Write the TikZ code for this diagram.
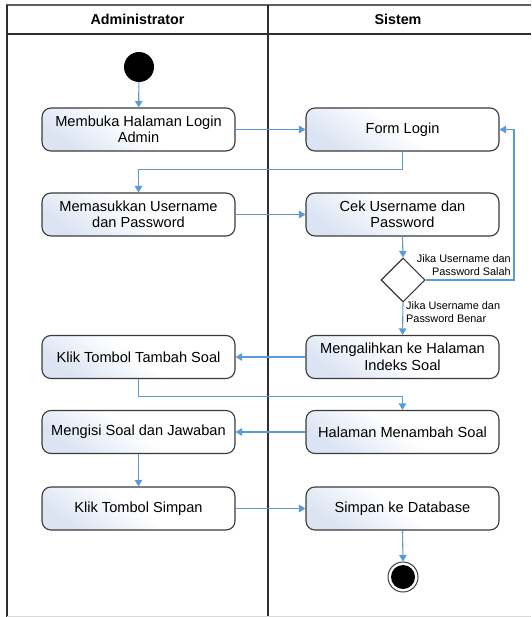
\documentclass[tikz,border=0pt]{standalone}
\usepackage{fontspec}
\setmainfont{Liberation Sans}
\usetikzlibrary{shapes.geometric,arrows.meta}

\definecolor{flow}{HTML}{5B9BD5}
\definecolor{edge}{HTML}{3A3A3A}
\definecolor{boxfill}{HTML}{DCE4F3}
\definecolor{lane}{HTML}{2E2E2E}

\tikzset{
  action/.style={draw=edge, line width=1.1pt, rounded corners=9pt,
    minimum width=193pt, minimum height=43pt, inner sep=2pt, align=center,
    top color=white, bottom color=boxfill, middle color=white, shading angle=-35,
    font=\fontsize{14.6}{16.5}\selectfont},
  flowline/.style={draw=flow, line width=1.1pt,
    -{Triangle[length=6.5pt,width=7.5pt]}},
  guard/.style={font=\fontsize{10.9}{13}\selectfont, inner sep=0pt},
  header/.style={font=\fontsize{14.3}{16}\selectfont\bfseries},
  lanerule/.style={draw=lane, line width=1.8pt},
}

\begin{document}
\begin{tikzpicture}[x=1pt,y=-1pt]
\useasboundingbox (0,0) rectangle (531,617);

% swimlane frame
\draw[draw=gray!75!black, line width=1.6pt] (6,5) -- (531,5);
\draw[lanerule] (6,34) -- (531,34);
\draw[lanerule] (7,5) -- (7,617);
\draw[lanerule] (268,5) -- (268,617);
\draw[draw=gray!30, line width=0.8pt] (7,616) -- (531,616);

\node[header] (hadmin) at (137.5,19.5) {Administrator};
\node[header] (hsys) at (398,19.5) {Sistem};

% initial and final states
\node[circle, fill=black, minimum size=30pt, inner sep=0pt] (start) at (139,67) {};
\node[circle, draw=gray!50!black, line width=1pt, fill=white, minimum size=30pt, inner sep=0pt] (stop) at (403,577) {};
\node[circle, fill=black, minimum size=24pt, inner sep=0pt] (stopdot) at (403,577) {};

% administrator lane
\node[action] (open)   at (138.5,129.5) {Membuka Halaman Login\\Admin};
\node[action] (enter)  at (138.5,214.5) {Memasukkan Username\\dan Password};
\node[action] (tambah) at (138.5,357)   {Klik Tombol Tambah Soal};
\node[action] (isi)    at (138.5,432)   {Mengisi Soal dan Jawaban};
\node[action] (simpan) at (138.5,508.5) {Klik Tombol Simpan};

% system lane
\node[action] (form)   at (402.5,129.5) {Form Login};
\node[action] (cek)    at (402.5,214.5) {Cek Username dan\\Password};
\node[diamond, draw=edge, line width=1.1pt, fill=white, minimum width=44pt,
      minimum height=44pt, inner sep=0pt] (dec) at (403,280) {};
\node[action] (redir)  at (402.5,357)   {Mengalihkan ke Halaman\\Indeks Soal};
\node[action] (hal)    at (402.5,432)   {Halaman Menambah Soal};
\node[action] (db)     at (402.5,508.5) {Simpan ke Database};

\coordinate (retry) at (514,129.5);

% control flow
\draw[flowline] (start) -- (open);
\draw[flowline] (open.east) -- (form.west);
\draw[flowline] (form.south) -- ++(0,18) -| (enter.north);
\draw[flowline] (enter.east) -- (cek.west);
\draw[flowline] (cek.south) -- (dec.north);
\draw[flowline] (dec.east) -| (retry) -- (form.east);
\draw[flowline] (dec.south) -- (redir.north);
\draw[flowline] (redir.west) -- (tambah.east);
\draw[flowline] (tambah.south) -- ++(0,17) -| (hal.north);
\draw[flowline] (hal.west) -- (isi.east);
\draw[flowline] (isi.south) -- (simpan.north);
\draw[flowline] (simpan.east) -- (db.west);
\draw[flowline] (db.south) -- (stop.north);

% guards
\node[guard, align=right, anchor=south east] (gfail) at (511,276) {Jika Username dan\\Password Salah};
\node[guard, align=left, anchor=north west] (gok) at (406,301) {Jika Username dan\\Password Benar};
\end{tikzpicture}
\end{document}
